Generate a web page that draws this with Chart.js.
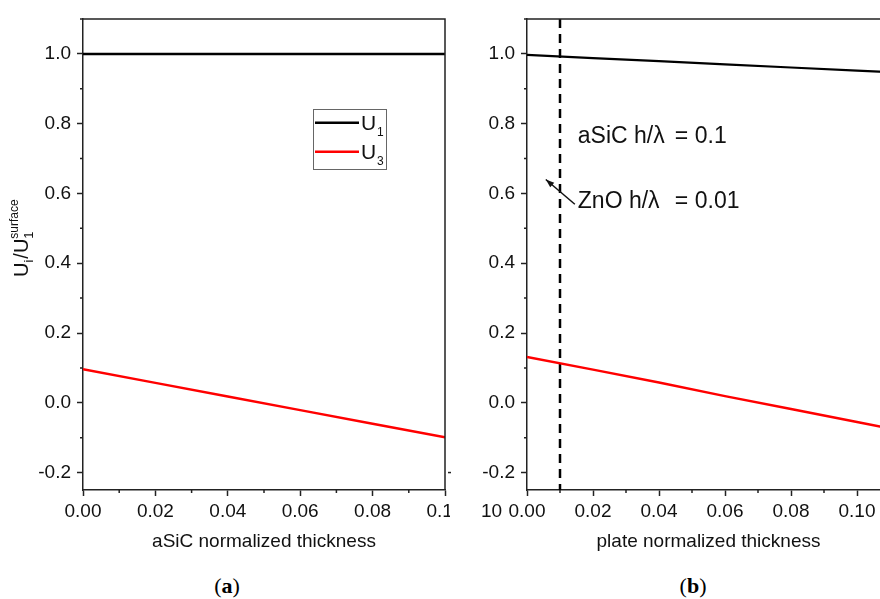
<!DOCTYPE html>
<html>
<head>
<meta charset="utf-8">
<script src="https://cdn.jsdelivr.net/npm/chart.js@4.4.1/dist/chart.umd.min.js"></script>
<style>
  body { margin: 0; width: 880px; height: 599px; overflow: hidden; background: #fff; position: relative; }
  #chartA { position: absolute; left: 0; top: 0; }
  #chartB { position: absolute; left: 440px; top: 0; }
  .panel-label { position: absolute; top: 575px; width: 100px; text-align: center;
    font: 22px/22px "Liberation Serif", "Times New Roman", serif; color: #000; }
</style>
</head>
<body>
<canvas id="chartA" width="450" height="560"></canvas>
<canvas id="chartB" width="460" height="560"></canvas>
<div class="panel-label" style="left:177px">(<b>a</b>)</div>
<div class="panel-label" style="left:643px">(<b>b</b>)</div>
<script>
// panel (a): aSiC layer
const xA = [0, 0.02, 0.04, 0.06, 0.08, 0.10];
const u1A = [1, 1, 1, 1, 1, 1];
const u3A = [0.096, 0.057, 0.018, -0.021, -0.060, -0.099];

// panel (b): plate
const xB = [0, 0.02, 0.04, 0.06, 0.08, 0.10, 0.12];
const u1B = [0.997, 0.988, 0.979, 0.970, 0.961, 0.952, 0.943];
const u3B = [0.131, 0.095, 0.058, 0.019, -0.018, -0.055, -0.093];

// ZnO film thickness marker
const znoThickness = 0.01;

// tick labels (every other 0.01 / 0.1 step)
const xTickLabelsA = ['0.00', '0.02', '0.04', '0.06', '0.08', '0.10'];
const xTickLabelsB = ['0.00', '0.02', '0.04', '0.06', '0.08', '0.10'];
const yTickLabels = ['-0.2', '0.0', '0.2', '0.4', '0.6', '0.8', '1.0'];

// text notes on panel (b), anchored in data units
const notes = [
  { parts: ['aSiC h/λ', '=', '0.1'], x: 0.0154, y: 0.744 },
  { parts: ['ZnO h/λ', '=', '0.01'], x: 0.0154, y: 0.557 }
];
const arrowFrom = { x: 0.0145, y: 0.569 };
const arrowTo = { x: 0.0057, y: 0.640 };

const FONT = '"Liberation Sans", Arial, sans-serif';
const INK = '#111';

function pts(xs, ys) {
  return xs.map((x, i) => ({ x: x, y: ys[i] }));
}

function xLabel(labels) {
  return value => {
    const k = Math.round(value * 100);
    return k % 2 === 0 ? (labels[k / 2] || '') : '';
  };
}

function yLabel(value) {
  const k = Math.round(value * 10);
  return k % 2 === 0 ? (yTickLabels[(k + 2) / 2] || '') : '';
}

function majorColor(ctx) {
  return ctx.tick && ctx.tick.label !== '' ? '#222' : 'rgba(0,0,0,0)';
}

function scalesFor(yWidth, labels, xMax, title) {
  return {
    x: {
      type: 'linear', min: 0, max: xMax,
      border: { display: true, color: '#222', width: 1.5 },
      grid: { drawOnChartArea: false, tickLength: 6, tickWidth: 1.5, tickColor: majorColor },
      ticks: { stepSize: 0.01, autoSkip: false, maxRotation: 0, padding: 4,
        color: INK, font: { family: FONT, size: 19 }, callback: xLabel(labels) },
      title: { display: true, text: title, color: INK, font: { family: FONT, size: 19 },
        padding: { top: 0, bottom: 7 } },
      afterFit: s => { s.height = 70; s.paddingLeft = 0; s.paddingRight = 0; }
    },
    y: {
      type: 'linear', min: -0.25, max: 1.1,
      border: { display: true, color: '#222', width: 1.5 },
      grid: { drawOnChartArea: false, tickLength: 6, tickWidth: 1.5, tickColor: majorColor },
      ticks: { stepSize: 0.1, includeBounds: false, autoSkip: false, padding: 6,
        color: INK, font: { family: FONT, size: 19 }, callback: yLabel },
      afterFit: s => { s.width = yWidth; s.paddingTop = 0; s.paddingBottom = 0; }
    }
  };
}

// frame on top/right plus the short minor ticks
function drawFrameAndMinor(chart) {
  const { ctx, chartArea: a } = chart;
  ctx.save();
  ctx.strokeStyle = '#222';
  ctx.lineWidth = 1.5;
  ctx.beginPath();
  ctx.moveTo(a.left, a.top);
  ctx.lineTo(a.right, a.top);
  ctx.lineTo(a.right, a.bottom);
  ctx.stroke();
  ctx.beginPath();
  chart.scales.x.ticks.forEach(t => {
    if (t.label !== '') return;
    const px = chart.scales.x.getPixelForValue(t.value);
    ctx.moveTo(px, a.bottom);
    ctx.lineTo(px, a.bottom + 3);
  });
  chart.scales.y.ticks.forEach(t => {
    if (t.label !== '') return;
    const py = chart.scales.y.getPixelForValue(t.value);
    ctx.moveTo(a.left, py);
    ctx.lineTo(a.left - 3, py);
  });
  ctx.stroke();
  ctx.restore();
}

const panelA = {
  id: 'panelA',
  afterDraw(chart) {
    const ctx = chart.ctx;
    drawFrameAndMinor(chart);

    // y axis title U_i/U_1^surface
    ctx.save();
    ctx.translate(28, 277);
    ctx.rotate(-Math.PI / 2);
    ctx.fillStyle = INK;
    ctx.textAlign = 'left';
    ctx.textBaseline = 'alphabetic';
    let x = 0;
    ctx.font = '20px ' + FONT;
    ctx.fillText('U', x, 0); x += ctx.measureText('U').width;
    ctx.font = '13px ' + FONT;
    ctx.fillText('i', x, 5); x += ctx.measureText('i').width + 1;
    ctx.font = '20px ' + FONT;
    ctx.fillText('/U', x, 0); x += ctx.measureText('/U').width;
    ctx.font = '13px ' + FONT;
    ctx.fillText('1', x, 5);
    ctx.font = '12px ' + FONT;
    ctx.fillText('surface', x, -10);
    ctx.restore();

    // legend
    ctx.save();
    ctx.strokeStyle = '#666';
    ctx.lineWidth = 1;
    ctx.strokeRect(313.5, 109.5, 73, 60);
    const rows = [
      { color: '#000', sub: '1', y: 122.7 },
      { color: '#ff0000', sub: '3', y: 151.7 }
    ];
    rows.forEach(r => {
      ctx.strokeStyle = r.color;
      ctx.lineWidth = 2.5;
      ctx.beginPath();
      ctx.moveTo(315, r.y);
      ctx.lineTo(359, r.y);
      ctx.stroke();
      ctx.fillStyle = INK;
      ctx.font = '21px ' + FONT;
      ctx.fillText('U', 361, r.y + 7);
      ctx.font = '12px ' + FONT;
      ctx.fillText(r.sub, 377, r.y + 13);
    });
    ctx.restore();
  }
};

const panelB = {
  id: 'panelB',
  afterDraw(chart) {
    const ctx = chart.ctx;
    const xs = chart.scales.x, ys = chart.scales.y;
    drawFrameAndMinor(chart);

    ctx.save();
    ctx.fillStyle = INK;
    ctx.textBaseline = 'alphabetic';
    ctx.textAlign = 'left';
    ctx.font = '23px ' + FONT;
    notes.forEach(n => {
      const px = xs.getPixelForValue(n.x);
      const py = ys.getPixelForValue(n.y);
      ctx.fillText(n.parts[0], px, py);
      ctx.fillText(n.parts[1], px + 97, py);
      ctx.fillText(n.parts[2], px + 117, py);
    });

    // arrow pointing at the dashed line
    const x0 = xs.getPixelForValue(arrowFrom.x), y0 = ys.getPixelForValue(arrowFrom.y);
    const x1 = xs.getPixelForValue(arrowTo.x), y1 = ys.getPixelForValue(arrowTo.y);
    ctx.strokeStyle = INK;
    ctx.lineWidth = 1.5;
    ctx.beginPath();
    ctx.moveTo(x0, y0);
    ctx.lineTo(x1, y1);
    ctx.stroke();
    const ang = Math.atan2(y1 - y0, x1 - x0);
    ctx.beginPath();
    ctx.moveTo(x1, y1);
    ctx.lineTo(x1 - 9 * Math.cos(ang - 0.35), y1 - 9 * Math.sin(ang - 0.35));
    ctx.lineTo(x1 - 9 * Math.cos(ang + 0.35), y1 - 9 * Math.sin(ang + 0.35));
    ctx.closePath();
    ctx.fill();

    // leftovers at the panel seam: a stray tick and tick text
    ctx.strokeStyle = '#222';
    ctx.lineWidth = 1.5;
    ctx.beginPath();
    const py2 = ys.getPixelForValue(-0.2);
    ctx.moveTo(8, py2);
    ctx.lineTo(11, py2);
    ctx.stroke();
    ctx.font = '19px ' + FONT;
    ctx.fillText('10', 41, 517);
    ctx.restore();
  }
};

new Chart(document.getElementById('chartA'), {
  type: 'line',
  data: {
    datasets: [
      { label: 'U1', data: pts(xA, u1A), borderColor: '#000', borderWidth: 2.5, pointRadius: 0, fill: false },
      { label: 'U3', data: pts(xA, u3A), borderColor: '#ff0000', borderWidth: 2.5, pointRadius: 0, fill: false }
    ]
  },
  options: {
    responsive: false,
    devicePixelRatio: 1,
    animation: false,
    layout: { padding: { top: 19, right: 5, left: 0, bottom: 0 } },
    plugins: { legend: { display: false }, tooltip: { enabled: false } },
    scales: scalesFor(83, xTickLabelsA, 0.1, 'aSiC normalized thickness')
  },
  plugins: [panelA]
});

new Chart(document.getElementById('chartB'), {
  type: 'line',
  data: {
    datasets: [
      { label: 'U1', data: pts(xB, u1B), borderColor: '#000', borderWidth: 2.2, pointRadius: 0, fill: false },
      { label: 'U3', data: pts(xB, u3B), borderColor: '#ff0000', borderWidth: 2.5, pointRadius: 0, fill: false },
      { label: 'ZnO', data: [{ x: znoThickness, y: 1.1 }, { x: znoThickness, y: -0.25 }],
        borderColor: '#000', borderWidth: 2.5, borderDash: [9, 6], pointRadius: 0, fill: false }
    ]
  },
  options: {
    responsive: false,
    devicePixelRatio: 1,
    animation: false,
    layout: { padding: { top: 19, right: 10, left: 0, bottom: 0 } },
    plugins: { legend: { display: false }, tooltip: { enabled: false } },
    scales: scalesFor(87, xTickLabelsB, 0.11, 'plate normalized thickness')
  },
  plugins: [panelB]
});
</script>
</body>
</html>
